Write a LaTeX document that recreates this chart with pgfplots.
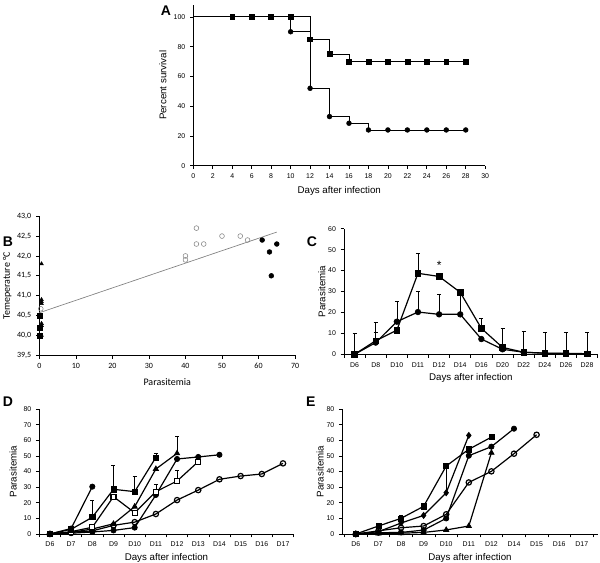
\documentclass[border=0pt]{standalone}
\usepackage{fontspec}
\setmainfont{Liberation Sans}
\newfontfamily\carlito{Carlito}
\usepackage{pgfplots}
\pgfplotsset{compat=1.18}
\begin{document}
\begin{tikzpicture}
\path[use as bounding box] (0,0) rectangle (450pt,422.25pt);
\pgfplotsset{
  base/.style={scale only axis, axis lines=left, axis line style={-, line width=0.6pt},
    tick align=outside, tick pos=left, major tick length=2.5pt, minor tick length=2.5pt,
    tick style={black, line width=0.5pt},
    /pgf/number format/assume math mode=true,
    ticklabel style={font=\fontsize{5.2}{6}\selectfont},
    label style={font=\fontsize{7.3}{8}\selectfont},
    clip=false, anchor=south west},
  yl/.style={ylabel style={at={(axis description cs:#1,0.5)}, rotate=0, anchor=center}},
  xl/.style={xlabel style={at={(axis description cs:0.5,#1)}, anchor=center}},
  cat/.style={xtick={0,...,11}, minor xtick={-0.5,0.5,...,11.5},
    every major x tick/.append style={draw=none}},
  ln/.style={black, line width=0.9pt, mark options={solid, line width=0.5pt}},
  eb/.style={error bars/.cd, y dir=plus, y explicit,
    error bar style={line width=0.4pt, black},
    error mark options={rotate=90, mark size=1.5pt, line width=0.4pt}},
}
% Panel letters
\node[font=\bfseries\fontsize{10.5}{11}\selectfont] at (124.5pt,414.5pt) {A};
\node[font=\bfseries\fontsize{10.5}{11}\selectfont] at (6pt,240.75pt) {B};
\node[font=\bfseries\fontsize{10.5}{11}\selectfont] at (234pt,240.75pt) {C};
\node[font=\bfseries\fontsize{10.5}{11}\selectfont] at (6pt,121pt) {D};
\node[font=\bfseries\fontsize{10.5}{11}\selectfont] at (233pt,121pt) {E};

% Panel A
\begin{axis}[base, yl=-0.104, xl=-0.157, at={(145pt,298pt)}, width=218.9pt, height=120.5pt,
  xmin=0, xmax=30, ymin=0, ymax=108, xtick={0,2,...,30}, ytick={0,20,...,100},
  xlabel={Days after infection}, ylabel={Percent survival}]
\addplot[black, line width=0.6pt, const plot, no marks] coordinates {(0,100)(12,85)(14,75)(16,70)(28,70)};
\addplot[black, line width=0.6pt, const plot, no marks] coordinates {(0,100)(10,90)(12,52)(14,33)(16,28.5)(18,24)(28,24)};
\addplot[only marks, mark=square*, mark size=1.8pt] coordinates {(4,100)(6,100)(8,100)(10,100)(12,85)(14,75)(16,70)(18,70)(20,70)(22,70)(24,70)(26,70)(28,70)};
\addplot[only marks, mark=*, mark size=1.8pt] coordinates {(10,90)(12,52)(14,33)(16,28.5)(18,24)(20,24)(22,24)(24,24)(26,24)(28,24)};
\end{axis}

% Panel B
\begin{axis}[base, yl=-0.125, xl=-0.19, at={(29.5pt,155.8pt)}, width=191.8pt, height=104.3pt,
  xmin=0, xmax=70, ymin=39.5, ymax=43, xtick={0,10,...,70},
  ytick={39.5,40,40.5,41,41.5,42,42.5,43},
  yticklabel style={/pgf/number format/.cd, fixed, fixed zerofill, precision=1, use comma},
  ticklabel style={font=\carlito\fontsize{6}{7}\selectfont},
  label style={font=\carlito\fontsize{7.5}{8}\selectfont},
  xlabel={Parasitemia}, ylabel={Temeperature °C}]
\addplot[gray, line width=0.5pt] coordinates {(0,40.57)(65,42.6)};
\addplot[only marks, mark=triangle*, mark size=1.6pt] coordinates {(0.6,41.8)(0.6,40.9)(0.6,40.85)(0.6,40.8)(0.6,40.3)(0.6,40.25)(0.6,40.0)};
\addplot[only marks, mark=square*, mark size=1.8pt] coordinates {(0.1,40.5)(0.1,40.2)(0.1,40.0)};
\addplot[only marks, mark=o, gray, mark size=1.8pt, mark options={fill=white}] coordinates {(0.4,40.67)(40,42.0)(40,41.9)(43,42.7)(43,42.3)(45,42.3)(50,42.5)(55,42.5)(57,42.4)};
\addplot[only marks, mark=*, mark size=1.8pt] coordinates {(61,42.4)(63,42.1)(63.5,41.5)(65,42.3)};
\end{axis}

% Panel C
\begin{axis}[base, cat, yl=-0.087, xl=-0.186, at={(258pt,156.5pt)}, width=190.2pt, height=94.2pt,
  xmin=-0.5, xmax=11.5, ymin=0, ymax=60, ytick={0,10,...,60},
  xticklabels={D6,D8,D10,D11,D12,D14,D16,D20,D22,D24,D26,D28},
  xlabel={Days after infection}, ylabel={Parasitemia}]
\addplot[ln, mark=*, mark size=2.1pt, eb] coordinates {(0,0)+-(0,10) (1,5.6)+-(0,9.9) (2,15.6)+-(0,9.9) (3,20.2)+-(0,10) (4,19.1)+-(0,9.6) (5,19.1)+-(0,10) (6,7.3)+-(0,0) (7,2.4)+-(0,9.9) (8,1)+-(0,10) (9,0.5)+-(0,10) (10,0.3)+-(0,10.2) (11,0.2)+-(0,10.1)};
\addplot[ln, mark=square*, mark size=2.1pt, eb] coordinates {(0,0)+-(0,0) (1,6.5)+-(0,4) (2,11.5)+-(0,0) (3,38.7)+-(0,9.6) (4,37.2)+-(0,1.6) (5,29.6)+-(0,0) (6,12.4)+-(0,4.6) (7,3.3)+-(0,0) (8,1)+-(0,0) (9,0.6)+-(0,0) (10,0.5)+-(0,0) (11,0.3)+-(0,0)};
\node[font=\fontsize{9}{9}\selectfont] at (axis cs:4,42.3) {*};
\end{axis}

% Panel D
\begin{axis}[base, cat, yl=-0.103, xl=-0.19, at={(29.5pt,21.75pt)}, width=190.7pt, height=93.75pt,
  xmin=-0.5, xmax=11.5, ymin=0, ymax=80, ytick={0,10,...,80},
  xticklabels={D6,D7,D8,D9,D10,D11,D12,D13,D14,D15,D16,D17},
  xlabel={Days after infection}, ylabel={Parasitemia}]
\addplot[ln, mark=o, mark size=2pt, mark options={fill=white}] coordinates {(0,0)(1,1)(2,2)(3,5.5)(4,7.6)(5,12.8)(6,21.7)(7,28.1)(8,35)(9,37.1)(10,38.4)(11,45.2)};
\addplot[ln, mark=*, mark size=2pt] coordinates {(0,0)(1,0.5)(2,1.3)(3,2.3)(4,4.1)(5,25)(6,48)(7,49.3)(8,50.7)};
\addplot[ln, mark=triangle*, mark size=2.3pt, eb] coordinates {(0,0)+-(0,0)(1,1)+-(0,0)(2,3.2)+-(0,0)(3,6.5)+-(0,0)(4,17.5)+-(0,0)(5,41.6)+-(0,0)(6,51.6)+-(0,11)};
\addplot[ln, mark=square*, mark size=1.9pt, mark options={fill=white}, eb] coordinates {(0,0)+-(0,0)(1,1.5)+-(0,0)(2,4.3)+-(0,0)(3,23.9)+-(0,0)(4,13.6)+-(0,0)(5,27.1)+-(0,5)(6,33.9)+-(0,7)(7,46.3)+-(0,0)};
\addplot[ln, mark=square*, mark size=1.9pt, eb] coordinates {(0,0)+-(0,0)(1,3)+-(0,0)(2,10.7)+-(0,11)(3,28.6)+-(0,15.5)(4,27.1)+-(0,10)(5,49)+-(0,2.6)};
\addplot[ln, mark=*, mark size=2pt] coordinates {(0,0)(1,3.5)(2,30.3)};
\end{axis}

% Panel E
\begin{axis}[base, yl=-0.087, xl=-0.19, at={(256.7pt,21.75pt)}, width=191.5pt, height=93.75pt,
  xmin=-0.6, xmax=10.7, ymin=0, ymax=80, ytick={0,10,...,80},
  xtick={0,...,10}, minor xtick={-0.5,0.5,...,10.5},
  every major x tick/.append style={draw=none},
  xticklabels={D6,D7,D8,D9,D10,D11,D12,D14,D15,D16,D17},
  xlabel={Days after infection}, ylabel={Parasitemia}]
\addplot[ln, mark=triangle*, mark size=2.3pt] coordinates {(0,0)(1,0.3)(2,0.5)(3,1)(4,2.6)(5,5.1)(6,52)};
\addplot[ln, mark=o, mark size=2pt, mark options={fill=white}] coordinates {(0,0)(1,2)(2,4)(3,5.1)(4,12.6)(5,33)(6,40.1)(7,51.4)(8,63.5)};
\addplot[ln, mark=*, mark size=2pt] coordinates {(0,0)(1,0.8)(2,1)(3,2.5)(4,10)(5,50.1)(6,55.9)(7,67.4)};
\addplot[ln, mark=diamond*, mark size=2.3pt, error bars/.cd, y dir=plus, y explicit, error bar style={line width=0.4pt, black}, error mark=none] coordinates {(0,0)+-(0,0)(1,1.5)+-(0,0)(2,7)+-(0,0)(3,11.9)+-(0,0)(4,26.4)+-(0,17)(5,63.1)+-(0,0)};
\addplot[ln, mark=square*, mark size=1.9pt, eb] coordinates {(0,0)+-(0,0)(1,5.1)+-(0,0)(2,10)+-(0,2)(3,17.7)+-(0,0)(4,43.5)+-(0,0)(5,54.2)+-(0,0)(6,62)+-(0,0)};
\end{axis}
\end{tikzpicture}
\end{document}
